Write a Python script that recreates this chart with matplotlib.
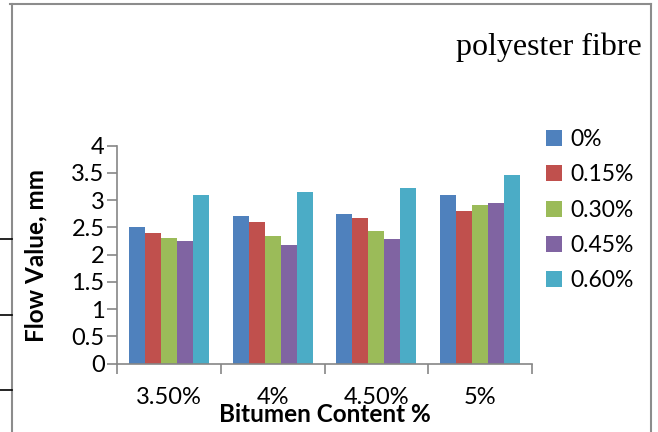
import numpy as np
import matplotlib.pyplot as plt
from matplotlib.lines import Line2D

# bitumen content groups and flow values (mm) for each fibre dosage
bitumen = ['3.50%', '4%', '4.50%', '5%']
fibre = ['0%', '0.15%', '0.30%', '0.45%', '0.60%']
flow_0 = [2.5, 2.7, 2.75, 3.1]
flow_015 = [2.4, 2.6, 2.67, 2.8]
flow_030 = [2.3, 2.35, 2.43, 2.92]
flow_045 = [2.25, 2.18, 2.28, 2.94]
flow_060 = [3.1, 3.15, 3.23, 3.46]
colors = ['#4F81BD', '#C0504D', '#9BBB59', '#8064A2', '#4BACC6']

series = [flow_0, flow_015, flow_030, flow_045, flow_060]

plt.rcParams['font.family'] = ['Lato', 'DejaVu Sans']

W, H = 658, 432
fig = plt.figure(figsize=(W / 100, H / 100), dpi=100)

# axes placed in pixel terms
x0, x1, y0, y1 = 117, 532, 363.5, 145.7
ax = fig.add_axes([x0 / W, 1 - y0 / H, (x1 - x0) / W, (y0 - y1) / H])

x = np.arange(len(bitumen))
bw = 1 / 6.5
for i, (vals, c) in enumerate(zip(series, colors)):
    ax.bar(x + (i - 2) * bw, vals, width=bw, color=c, label=fibre[i])

ax.set_xlim(-0.5, len(bitumen) - 0.5)
ax.set_ylim(0, 4)
ax.set_yticks(np.arange(0, 4.01, 0.5))
ax.set_yticklabels(['0', '0.5', '1', '1.5', '2', '2.5', '3', '3.5', '4'])
ax.set_xticks(np.arange(-0.5, len(bitumen), 1))
ax.set_xticklabels([])
ax.set_xticks(x, minor=True)
ax.set_xticklabels(bitumen, minor=True)
ax.tick_params(axis='x', which='minor', length=0, labelsize=17, pad=17)
ax.tick_params(axis='x', which='major', length=7, color='#868686', width=1.2)
ax.tick_params(axis='y', length=7, color='#868686', width=1.2, labelsize=17, pad=2)

for s in ['top', 'right']:
    ax.spines[s].set_visible(False)
for s in ['left', 'bottom']:
    ax.spines[s].set_color('#868686')
    ax.spines[s].set_linewidth(1.2)

fig.text(36 / W, 1 - 255 / H, 'Flow Value, mm', rotation=90, fontsize=17.5,
         fontweight='bold', ha='center', va='center')
fig.text(325 / W, 1 - 414 / H, 'Bitumen Content %', fontsize=17.5,
         fontweight='bold', ha='center', va='center')
fig.text(642 / W, 1 - 47 / H, 'polyester fibre', fontsize=23,
         family='Liberation Serif', ha='right', va='center')

fig.legend(loc='upper left', bbox_to_anchor=(537 / W, 1 - 120 / H),
           frameon=False, fontsize=16.5, handlelength=0.7, handleheight=0.7,
           handletextpad=0.35, labelspacing=0.62, borderaxespad=0)

# chart frame and stray table rules at the left edge
frame = '#8c8c8c'
fig.add_artist(Line2D([12 / W, 12 / W], [0, 1 - 4 / H], color=frame, lw=1.5))
fig.add_artist(Line2D([10 / W, 651 / W], [1 - 4 / H, 1 - 4 / H], color=frame, lw=1.5))
fig.add_artist(Line2D([651 / W, 651 / W], [0, 1 - 4 / H], color=frame, lw=1.5))
for yy in [239, 315, 390]:
    fig.add_artist(Line2D([0, 12 / W], [1 - yy / H, 1 - yy / H], color='black', lw=1.2))

fig.savefig('out.png', dpi=100)
